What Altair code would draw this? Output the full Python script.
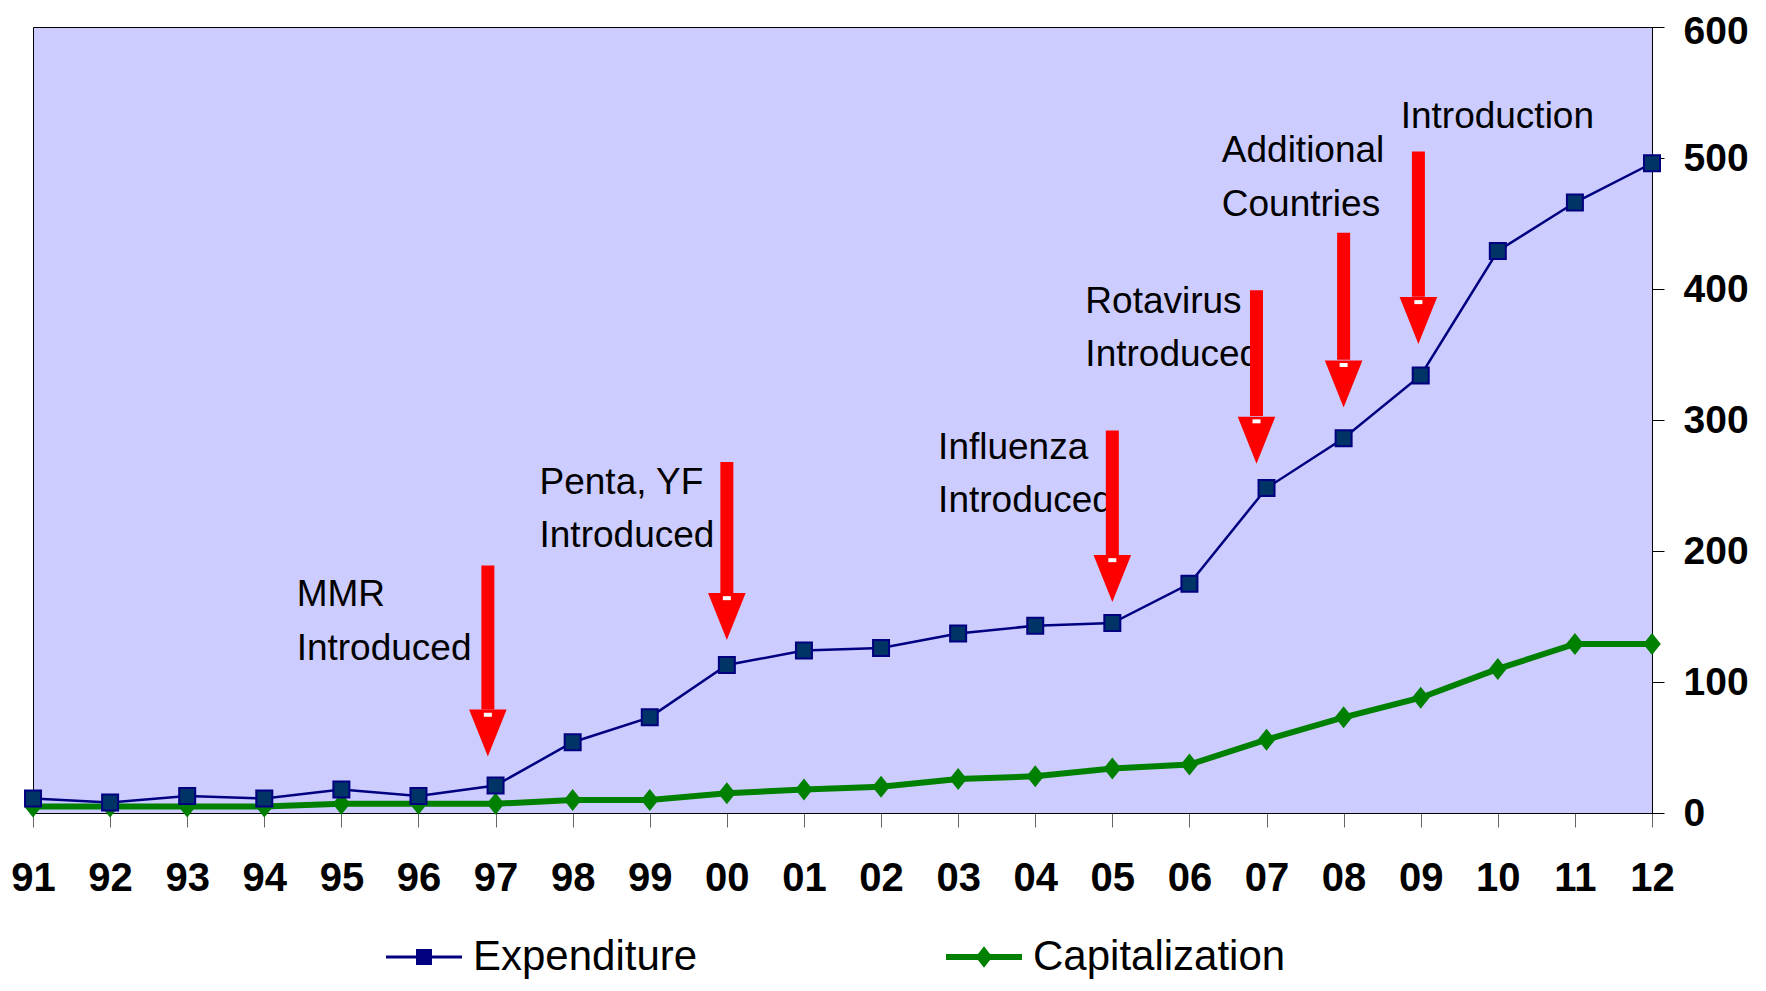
import altair as alt
import pandas as pd

# ---------------- data ----------------
years = list(range(1991, 2013))
tick_labels = ["91", "92", "93", "94", "95", "96", "97", "98", "99", "00", "01",
               "02", "03", "04", "05", "06", "07", "08", "09", "10", "11", "12"]
expenditure = [11, 8, 13, 11, 18, 13, 21, 54, 73, 113, 124, 126, 137, 143, 145,
               175, 248, 286, 334, 429, 466, 496]
capitalization = [5, 5, 5, 5, 7, 7, 7, 10, 10, 15, 18, 20, 26, 28, 34, 37, 56,
                  73, 88, 110, 129, 129]
series_names = ["Expenditure", "Capitalization"]
series_colors = ["#000080", "#008000"]
y_ticks = [0, 100, 200, 300, 400, 500, 600]

ann_text = ["MMR", "Introduced", "Penta, YF", "Introduced", "Influenza", "Introduced",
            "Rotavirus", "Introduced", "Additional", "Countries", "Introduction"]
ann_x = [1994.42, 1994.42, 1997.57, 1997.57, 2002.74, 2002.74, 2004.65, 2004.65,
         2006.42, 2006.42, 2008.74]
ann_y = [166.5, 125.5, 252.0, 211.5, 279.0, 238.5, 390.0, 349.5, 505.0, 464.5, 531.5]

arrow_x = [1996.9, 2000.0, 2005.0, 2006.87, 2008.0, 2008.97]
arrow_top = [189, 268, 292, 399, 443, 505]
arrow_base = [79, 168, 197, 303, 346, 394]
arrow_tip = [43, 132, 161, 266, 309, 358]
arrow_notch = [75, 164, 193, 299, 342, 390]

# ---------------- tables ----------------
df = pd.DataFrame({
    "x": years * 2,
    "y": expenditure + capitalization,
    "series": [series_names[0]] * len(years) + [series_names[1]] * len(years),
})
df_exp = df[df.series == series_names[0]]
df_cap = df[df.series == series_names[1]]
df_ann = pd.DataFrame({"x": ann_x, "y": ann_y, "text": ann_text})
df_arrow = pd.DataFrame({
    "x": arrow_x, "y": arrow_top, "y2": arrow_base,
    "yc": [(b + t) / 2 for b, t in zip(arrow_base, arrow_tip)],
    "yn": arrow_notch,
})

FONT = "Liberation Sans"
label_expr = "[" + ",".join("'%s'" % t for t in tick_labels) + "][datum.value - 1991]"

xscale = alt.Scale(domain=[1991, 2012], nice=False, zero=False)
yscale = alt.Scale(domain=[0, 600], nice=False, zero=True)
xaxis = alt.Axis(values=years, labelExpr=label_expr, title=None, grid=False,
                 labelFont=FONT, labelFontSize=40, labelFontWeight="bold",
                 labelColor="black", labelAngle=0, labelFlush=False,
                 labelOverlap=False, tickSize=14, tickColor="#666666",
                 domainColor="black", labelPadding=31)
yaxis = alt.Axis(values=y_ticks, orient="right", title=None, grid=False,
                 labelFont=FONT, labelFontSize=39, labelFontWeight="bold",
                 labelColor="black", labelFlush=False, labelOverlap=False,
                 labelOffset={"condition": {"test": "datum.value == 600", "value": 4},
                              "value": 0},
                 tickSize=12, tickColor="black", domainColor="black",
                 labelPadding=19)

X = alt.X("x:Q", scale=xscale, axis=xaxis)
Y = alt.Y("y:Q", scale=yscale, axis=yaxis)

text_layer = alt.Chart(df_ann).mark_text(
    font=FONT, fontSize=37, color="black", align="left", baseline="middle"
).encode(x=X, y=Y, text="text:N")

line_exp = alt.Chart(df_exp).mark_line(color=series_colors[0], strokeWidth=2.5).encode(x=X, y=Y)
line_cap = alt.Chart(df_cap).mark_line(color=series_colors[1], strokeWidth=6).encode(x=X, y=Y)

pts_exp = alt.Chart(df_exp).mark_square(
    size=256, fill="#003366", stroke="#000080", strokeWidth=2, opacity=1
).encode(x=X, y=Y)

diamond_path = "M0,-1L0.8,0L0,1L-0.8,0Z"
pts_cap = alt.Chart(df_cap).mark_point(
    shape=diamond_path, size=484, filled=True, color=series_colors[1], opacity=1
).encode(x=X, y=Y)

exp_legend_path = "M-1,-0.04H1V0.04H-1Z M-0.21,-0.21H0.21V0.21H-0.21Z"
cap_legend_path = "M-1,-0.08H1V0.08H-1Z M0,-0.28L0.22,0L0,0.28L-0.22,0Z"
legend = alt.Legend(title=None, orient="none", legendX=353, legendY=892,
                    direction="horizontal", symbolSize=5776, symbolStrokeWidth=0,
                    symbolOpacity=1, labelFontSize=42, labelFont=FONT,
                    labelColor="black", labelOffset=11, columnPadding=248,
                    padding=0, labelLimit=500)
legend_layer = alt.Chart(df).mark_point(filled=True, opacity=0).encode(
    x=X, y=Y,
    color=alt.Color("series:N", scale=alt.Scale(domain=series_names, range=series_colors),
                    legend=legend),
    shape=alt.Shape("series:N", scale=alt.Scale(domain=series_names,
                                                 range=[exp_legend_path, cap_legend_path]),
                    legend=legend),
)

arrow_shaft = alt.Chart(df_arrow).mark_rule(color="#FF0000", strokeWidth=13).encode(
    x=X, y=Y, y2="y2:Q")
arrowhead_path = "M-0.8,-1L0.8,-1L0,1Z"
arrow_head = alt.Chart(df_arrow).mark_point(
    shape=arrowhead_path, size=2209, filled=True, color="#FF0000", opacity=1, strokeWidth=0
).encode(x=X, y=alt.Y("yc:Q", scale=yscale, axis=yaxis))
arrow_mark = alt.Chart(df_arrow).mark_point(
    shape="M-1,-0.5H1V0.5H-1Z", size=64, filled=True, color="white", opacity=1, strokeWidth=0
).encode(x=X, y=alt.Y("yn:Q", scale=yscale, axis=yaxis))

chart = alt.layer(
    legend_layer, text_layer, line_cap, line_exp, pts_cap, pts_exp,
    arrow_shaft, arrow_head, arrow_mark
).properties(
    width=1619, height=786,
    autosize=alt.AutoSizeParams(type="none"),
    padding={"left": 25, "top": 19, "right": 106, "bottom": 170},
    background="white",
).configure_view(fill="#CCCCFF", stroke="black", strokeWidth=1)

chart.save("out.html", embed_options={"renderer": "svg", "actions": False})
